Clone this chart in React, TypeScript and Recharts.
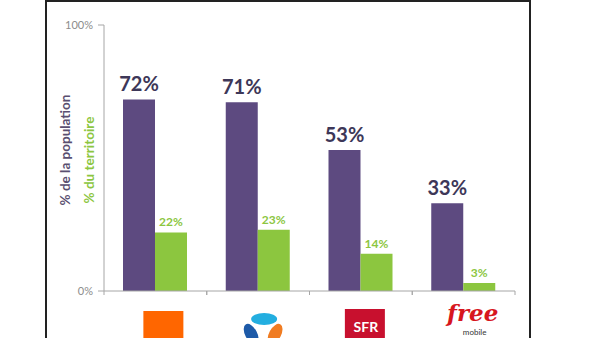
import { Bar, BarChart, LabelList, XAxis, YAxis } from "recharts";

const operators = ["Orange", "Bouygues Telecom", "SFR", "Free Mobile"];
const populationPct = [72, 71, 53, 33];
const territoryPct = [22, 23, 14, 3];
const yTicks = [0, 100];

const data = operators.map((name, i) => ({
  name,
  population: populationPct[i],
  territory: territoryPct[i],
}));

const PURPLE = "#5d4a80";
const GREEN = "#8cc63f";
const AXIS = "#a6a6a6";
const FONT = "Lato, 'Open Sans', sans-serif";

// Logo drawn under each category, plus the small ticks at the band edges.
function LogoTick(props: any) {
  const { x, y, payload } = props;
  const half = payload?.offset ?? 51;
  const name = payload?.value as string;
  let logo = null;
  if (name === "Orange") {
    logo = <rect x={x - 12} y={y + 20} width={40} height={30} fill="#ff6600" />;
  } else if (name === "Bouygues Telecom") {
    logo = (
      <g>
        <ellipse cx={x + 6} cy={y + 28} rx={13} ry={6} fill="#23aee0" />
        <ellipse cx={x - 7} cy={y + 43} rx={6} ry={11} fill="#1d5aa8" transform={`rotate(-28 ${x - 7} ${y + 43})`} />
        <ellipse cx={x + 17} cy={y + 43} rx={6} ry={11} fill="#f07c22" transform={`rotate(28 ${x + 17} ${y + 43})`} />
      </g>
    );
  } else if (name === "SFR") {
    logo = (
      <g>
        <rect x={x - 16} y={y + 18} width={40} height={32} fill="#c8102e" />
        <text x={x + 5} y={y + 41} textAnchor="middle" fill="#fff" fontSize={14} fontWeight={700} fontFamily={FONT}>
          SFR
        </text>
      </g>
    );
  } else {
    logo = (
      <g>
        <text x={x + 9} y={y + 30} textAnchor="middle" fill="#d7161e" fontSize={23} fontWeight={700} fontStyle="italic" fontFamily="'DejaVu Serif', serif">
          free
        </text>
        <text x={x + 11} y={y + 44} textAnchor="middle" fill="#333" fontSize={8} fontFamily={FONT}>
          mobile
        </text>
      </g>
    );
  }
  return (
    <g>
      <line x1={x - half} y1={y} x2={x - half} y2={y + 4} stroke={AXIS} />
      <line x1={x + half} y1={y} x2={x + half} y2={y + 4} stroke={AXIS} />
      {logo}
    </g>
  );
}

function YTitles(props: any) {
  const vb = props.viewBox ?? { y: 25, height: 266 };
  const mid = vb.y + vb.height / 2;
  return (
    <g fontFamily={FONT} fontSize={13.5} fontWeight={700}>
      <text x={70} y={mid - 8} textAnchor="middle" fill="#5a4f70" transform={`rotate(-90 70 ${mid - 8})`}>
        % de la population
      </text>
      <text x={94} y={mid + 2} textAnchor="middle" fill={GREEN} transform={`rotate(-90 94 ${mid + 2})`}>
        % du territoire
      </text>
    </g>
  );
}

export default function App() {
  return (
    <div style={{ position: "absolute", left: 0, top: 0, width: 600, height: 338, background: "#fff", overflow: "hidden" }}>
      <div
        style={{
          position: "absolute",
          left: 45,
          top: 0,
          width: 482,
          height: 340,
          borderLeft: "2px solid #222",
          borderRight: "2px solid #222",
          borderTop: "2px solid #222",
        }}
      />
      <BarChart
        width={600}
        height={338}
        data={data}
        margin={{ top: 25, right: 85, bottom: 0, left: 0 }}
        barSize={32}
        barGap={0}
        style={{ position: "absolute", left: 0, top: 0 }}
      >
        <XAxis
          dataKey="name"
          height={47}
          stroke={AXIS}
          tickLine={false}
          tickSize={0}
          tickMargin={0}
          interval={0}
          tick={<LogoTick />}
        />
        <YAxis
          width={104}
          domain={[0, 100]}
          ticks={yTicks}
          stroke={AXIS}
          tickSize={6}
          tickMargin={5}
          tickFormatter={(v: number) => `${v}%`}
          tick={{ fill: "#8c8c8c", fontSize: 11, fontFamily: FONT }}
          label={{ content: <YTitles /> }}
        />
        <Bar dataKey="population" fill={PURPLE} isAnimationActive={false}>
          <LabelList
            dataKey="population"
            position="top"
            offset={8}
            formatter={(v: any) => `${v}%`}
            fill="#3d3758"
            fontSize={20}
            fontWeight={700}
            fontFamily={FONT}
          />
        </Bar>
        <Bar dataKey="territory" fill={GREEN} isAnimationActive={false}>
          <LabelList
            dataKey="territory"
            position="top"
            offset={6}
            formatter={(v: any) => `${v}%`}
            fill={GREEN}
            fontSize={12}
            fontWeight={700}
            fontFamily={FONT}
          />
        </Bar>
      </BarChart>
    </div>
  );
}
